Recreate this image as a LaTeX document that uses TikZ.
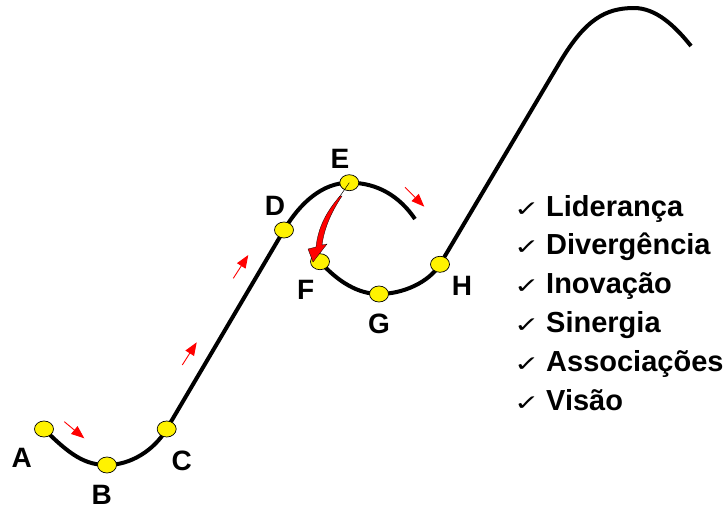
\documentclass[tikz,border=0pt]{standalone}
\usepackage{fontspec}
\setmainfont{Liberation Sans}
\newfontfamily\checkfont{DejaVu Sans}
\usetikzlibrary{arrows.meta,shapes.geometric,backgrounds}
\newcommand{\tick}{\scalebox{0.95}[0.68]{\checkfont ✓}}
\begin{document}
\begin{tikzpicture}[x=1pt, y=-1pt,
    pt/.style={ellipse, draw=black, line width=0.7pt, fill=yellow, minimum width=19pt, minimum height=16pt, inner sep=0pt},
    lbl/.style={inner sep=0pt, font=\fontsize{28}{34}\selectfont\bfseries},
    curve/.style={line width=4pt},
    flow/.style={red, line width=0.9pt, -{Triangle[length=13pt,width=10pt]}},
    checkmk/.style={anchor=base west, inner sep=0pt, font=\fontsize{32}{36}\selectfont},
    item/.style={anchor=base west, inner sep=0pt, font=\fontsize{29}{35}\selectfont\bfseries}]
  \useasboundingbox (0,0) rectangle (726,509);
  \node[pt] (A) at (44,429) {};
  \node[pt] (B) at (107,465) {};
  \node[pt] (C) at (166.7,429) {};
  \node[pt] (D) at (284,230) {};
  \node[pt] (E) at (349.3,182.7) {};
  \node[pt] (F) at (320,261.7) {};
  \node[pt] (G) at (379,294) {};
  \node[pt] (H) at (440,264.3) {};
  \node[lbl] (lA) at (21.7,458) {A};
  \node[lbl] (lB) at (101.7,494.5) {B};
  \node[lbl] (lC) at (181.7,461) {C};
  \node[lbl] (lD) at (275,205.7) {D};
  \node[lbl] (lE) at (340,159) {E};
  \node[lbl] (lF) at (305.7,289.7) {F};
  \node[lbl] (lG) at (379,324) {G};
  \node[lbl] (lH) at (462,286) {H};
  \coordinate (e1) at (415,219);
  \coordinate (h1) at (560,62);
  \coordinate (h2) at (634,8);
  \coordinate (h3) at (691,46);
  \begin{scope}[on background layer]
    \draw[curve] (A.center) .. controls +(26,26) and +(-22,0) .. (B.center)
      .. controls +(23,0) and +(-13,22) .. (C.center) -- (D.center)
      .. controls +(16,-27) and +(-27,0) .. (E.center)
      .. controls +(29,0) and +(-15,-22) .. (e1);
    \draw[curve] (F.center) .. controls +(18,20) and +(-21,0) .. (G.center)
      .. controls +(24,0) and +(-11,18) .. (H.center) -- (h1)
      .. controls +(25,-42) and +(-29,0) .. (h2)
      .. controls +(22,0) and +(-16,-20) .. (h3);
  \end{scope}
  \foreach \x/\y/\u/\v in {64.3/421.7/84.3/438.3, 182.3/365/196.7/342.3,
      233.3/278.3/248.3/255, 405/187.3/424.3/206.7}
    \draw[flow] (\x,\y) -- (\u,\v);
  \draw[black, line width=0.5pt] (E.center) -- (338,199);
  \filldraw[fill=red, draw=black, line width=0.3pt] (342,196)
    .. controls (330,214) and (324,230) .. (322,245) -- (327,244) -- (313,262)
    -- (308,249) -- (316,247) .. controls (318,228) and (326,212) .. (340,196) -- cycle;
  \foreach \t [count=\i from 0] in {Liderança, Divergência, Inovação, Sinergia, Associações, Visão} {
    \node[checkmk] (chk\i) at (514,{216+38.8*\i}) {\tick};
    \node[item] (item\i) at (546,{216+38.8*\i}) {\t};
  }
\end{tikzpicture}
\end{document}
